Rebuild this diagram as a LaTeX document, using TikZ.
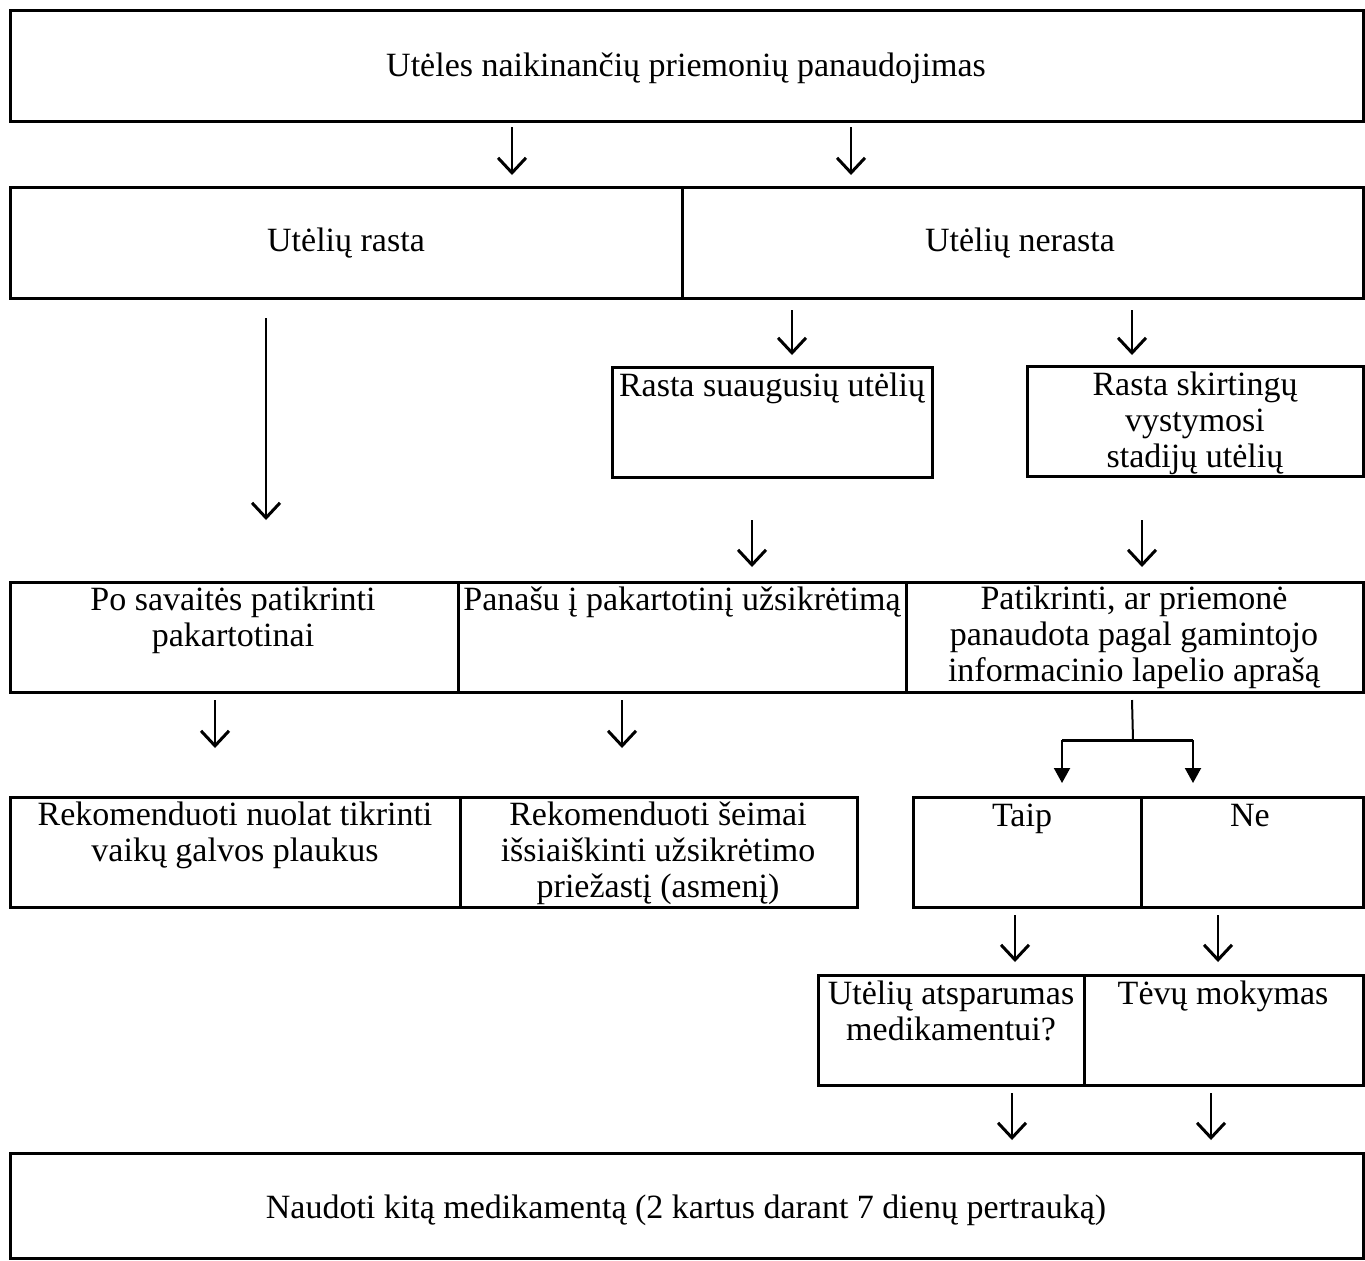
\documentclass[tikz,border=0pt]{standalone}
\usepackage{fontspec}
\setmainfont{Liberation Serif}
\usetikzlibrary{arrows.meta,fit}
\begin{document}
\begin{tikzpicture}[x=0.5pt,y=-0.5pt,
  cell/.style={draw,line width=1.5pt,inner sep=0pt,fit={#1}},
  txt/.style={align=center,inner sep=0pt,anchor=base,font=\fontsize{17}{17.8}\selectfont},
  barb/.style={line width=1pt,-{Straight Barb[length=7.5pt,width=14pt,line width=1.5pt]}},
  tri/.style={line width=1pt,-{Triangle[length=7.5pt,width=8pt]}}]
\useasboundingbox (0,0) rectangle (1365,1260);
\fill[white] (0,0) rectangle (1365,1260);

% boxes
\node[cell={(10,10) (1363,121)}] (b1) {};
\node[cell={(10,187) (682,298)}] (b2a) {};
\node[cell={(682,187) (1363,298)}] (b2b) {};
\node[cell={(612,367) (932,477)}] (b3a) {};
\node[cell={(1027,366) (1363,476)}] (b3b) {};
\node[cell={(10,582) (458,692)}] (b4a) {};
\node[cell={(458,582) (906,692)}] (b4b) {};
\node[cell={(906,582) (1363,692)}] (b4c) {};
\node[cell={(10,797) (460,907)}] (b5a) {};
\node[cell={(460,797) (857,907)}] (b5b) {};
\node[cell={(913,797) (1141,907)}] (b5c) {};
\node[cell={(1141,797) (1363,907)}] (b5d) {};
\node[cell={(818,975) (1084,1085)}] (b6a) {};
\node[cell={(1084,975) (1363,1085)}] (b6b) {};
\node[cell={(10,1153) (1363,1258)}] (b7) {};

% texts (base anchor = baseline of the last line)
\node[txt] (t1) at (686,76) {Utėles naikinančių priemonių panaudojimas};
\node[txt] (t2a) at (346,251) {Utėlių rasta};
\node[txt] (t2b) at (1020,251) {Utėlių nerasta};
\node[txt] (t3a) at (772,396) {Rasta suaugusių utėlių};
\node[txt] (t3b) at (1195,467) {Rasta skirtingų\\vystymosi\\stadijų utėlių};
\node[txt] (t4a) at (233,646) {Po savaitės patikrinti\\pakartotinai};
\node[txt] (t4b) at (682,610) {Panašu į pakartotinį užsikrėtimą};
\node[txt] (t4c) at (1134,681) {Patikrinti, ar priemonė\\panaudota pagal gamintojo\\informacinio lapelio aprašą};
\node[txt] (t5a) at (235,861) {Rekomenduoti nuolat tikrinti\\vaikų galvos plaukus};
\node[txt] (t5b) at (658,897) {Rekomenduoti šeimai\\išsiaiškinti užsikrėtimo\\priežastį (asmenį)};
\node[txt] (t5c) at (1022,826) {Taip};
\node[txt] (t5d) at (1250,826) {Ne};
\node[txt] (t6a) at (951,1040) {Utėlių atsparumas\\medikamentui?};
\node[txt] (t6b) at (1223,1004) {Tėvų mokymas};
\node[txt] (t7) at (686,1218) {Naudoti kitą medikamentą (2 kartus darant 7 dienų pertrauką)};

% arrow end points
\coordinate (a1s) at (512,127);  \coordinate (a1e) at (512,175);
\coordinate (a2s) at (851,127);  \coordinate (a2e) at (851,175);
\coordinate (a3s) at (792,310);  \coordinate (a3e) at (792,355);
\coordinate (a4s) at (1132,310); \coordinate (a4e) at (1132,355);
\coordinate (a5s) at (266,318);  \coordinate (a5e) at (266,520);
\coordinate (a6s) at (752,520);  \coordinate (a6e) at (752,567);
\coordinate (a7s) at (1142,520); \coordinate (a7e) at (1142,567);
\coordinate (a8s) at (215,700);  \coordinate (a8e) at (215,748);
\coordinate (a9s) at (622,700);  \coordinate (a9e) at (622,748);
\coordinate (a10s) at (1015,915); \coordinate (a10e) at (1015,962);
\coordinate (a11s) at (1218,915); \coordinate (a11e) at (1218,962);
\coordinate (a12s) at (1012,1093); \coordinate (a12e) at (1012,1140);
\coordinate (a13s) at (1211,1093); \coordinate (a13e) at (1211,1140);
\coordinate (brs) at (1132,700); \coordinate (brm) at (1133,740);
\coordinate (brl) at (1062,740); \coordinate (brr) at (1193,740);
\coordinate (brle) at (1062,783); \coordinate (brre) at (1193,783);

\foreach \i in {1,...,13} \draw[barb] (a\i s) -- (a\i e);

\draw[line width=1pt] (brs) -- (brm);
\draw[line width=1.5pt] (brl) -- (brr);
\draw[tri] (brl) -- (brle);
\draw[tri] (brr) -- (brre);
\end{tikzpicture}
\end{document}
